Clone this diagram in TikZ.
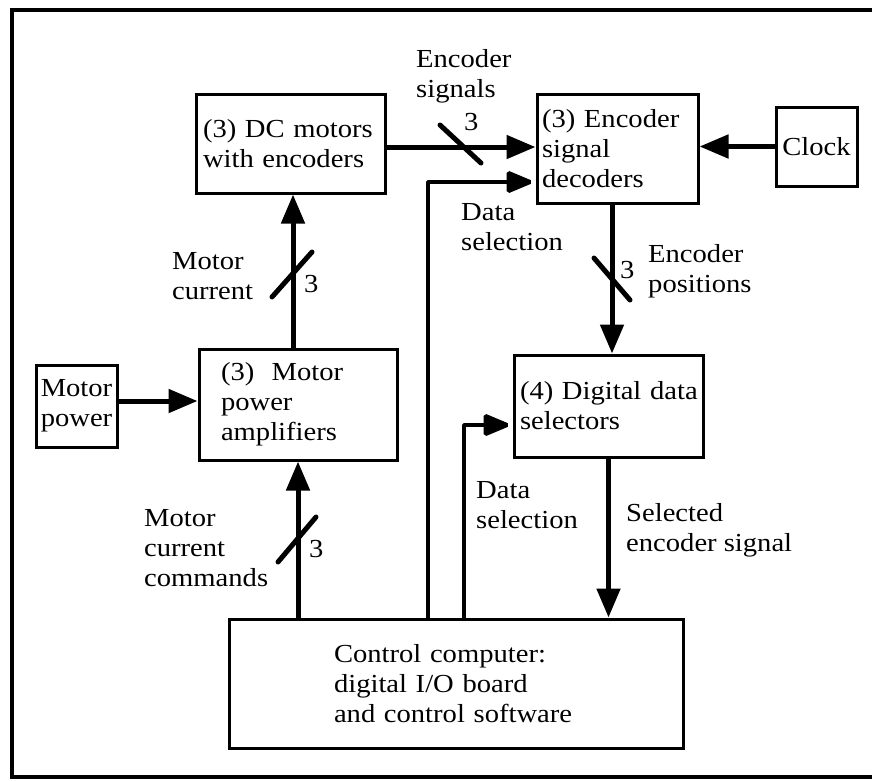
\documentclass[tikz,border=0pt]{standalone}
\usepackage{fontspec}
\setmainfont{Liberation Serif}[FakeStretch=1.1]
\usetikzlibrary{arrows.meta}
\newcommand\myfont{\fontsize{26}{30}\selectfont}
\tikzset{
  box/.style={draw, line width=3pt, rectangle, inner ysep=0pt, align=left, font=\myfont},
  lbl/.style={anchor=base west, align=left, inner sep=0pt, font=\myfont},
  conn/.style={line width=5pt, -{Triangle[length=29pt,width=23pt]}},
  thinconn/.style={line width=4pt, miter limit=1, -{Triangle[length=29pt,width=23pt]}},
  slash/.style={line width=5pt, line cap=round},
  frame/.style={line width=4.5pt},
}
\begin{document}
\begin{tikzpicture}[x=1pt,y=-1pt]
\useasboundingbox (0,0) rectangle (872,780);
\fill[white] (0,0) rectangle (872,780);
\draw[frame] (874,10) -- (12,10) -- (12,777) -- (874,777);

% boxes
\node[box, minimum height=99pt, text width=175pt, inner xsep=7pt] (dc) at (290.5,143.5) {\mbox{(3) DC motors}\\\mbox{with encoders}};
\node[box, minimum height=109pt, text width=151pt, inner xsep=5pt] (dec) at (617.5,148.5) {\mbox{(3) Encoder}\\signal\\decoders};
\node[box, minimum width=81pt, minimum height=79pt, inner xsep=0pt] (clock) at (816.5,146.5) {Clock};
\node[box, minimum width=81pt, minimum height=82pt, inner xsep=0pt] (mp) at (76.5,406) {Motor\\power};
\node[box, minimum height=111pt, text width=154pt, inner xsep=22pt] (amp) at (298,404.5) {\mbox{(3)\ \ Motor}\\power\\amplifiers};
\node[box, minimum height=102pt, text width=177pt, inner xsep=6pt] (sel) at (608.5,406) {\mbox{(4) Digital data}\\selectors};
\node[box, minimum height=129pt, text width=244pt, inner xsep=105pt] (ctl) at (456,683.5) {\mbox{Control computer:}\\\mbox{digital I/O board}\\\mbox{and control software}};

% labels (anchor at baseline of last line)
\node[lbl] (l1) at (416,97) {Encoder\\signals};
\node[lbl] (n1) at (464,130) {3};
\node[lbl] (l2) at (461,250) {Data\\selection};
\node[lbl] (l3) at (172,299) {Motor\\current};
\node[lbl] (n2) at (304,292) {3};
\node[lbl] (l4) at (648,292) {Encoder\\positions};
\node[lbl] (n3) at (620,278) {3};
\node[lbl] (l5) at (476,528) {Data\\selection};
\node[lbl] (l6) at (626,551) {Selected\\\mbox{encoder signal}};
\node[lbl] (l7) at (144,586) {Motor\\current\\commands};
\node[lbl] (n4) at (309,557) {3};

% connectors
\draw[conn] ([yshift=-3.5pt]dc.east) -- ([yshift=-3.5pt]dc.east -| dec.west);
\draw[conn] (clock.west) -- (clock.west -| dec.east);
\draw[conn] ([xshift=-5.5pt]dec.south) -- ([xshift=-5.5pt]dec.south |- sel.north);
\draw[conn] (sel.south) -- (sel.south |- ctl.north);
\draw[conn] ([xshift=-5pt]amp.north) -- ([xshift=-5pt]amp.north |- dc.south);
\draw[conn] ([yshift=5pt]mp.east) -- ([yshift=5pt]mp.east -| amp.west);
\draw[conn] (amp.south |- ctl.north) -- (amp.south);
\coordinate (ds1) at (428,182);
\coordinate (ds2) at (464,425);
\draw[thinconn] (ds1 |- ctl.north) -- (ds1) -- (ds1 -| dec.west);
\draw[thinconn] (ds2 |- ctl.north) -- (ds2) -- (ds2 -| sel.west);

% bus slashes
\draw[slash] (440,125) -- (481,163);
\draw[slash] (272,297) -- (312,252);
\draw[slash] (594,258) -- (630,300);
\draw[slash] (278,562) -- (316,517);
\end{tikzpicture}
\end{document}
